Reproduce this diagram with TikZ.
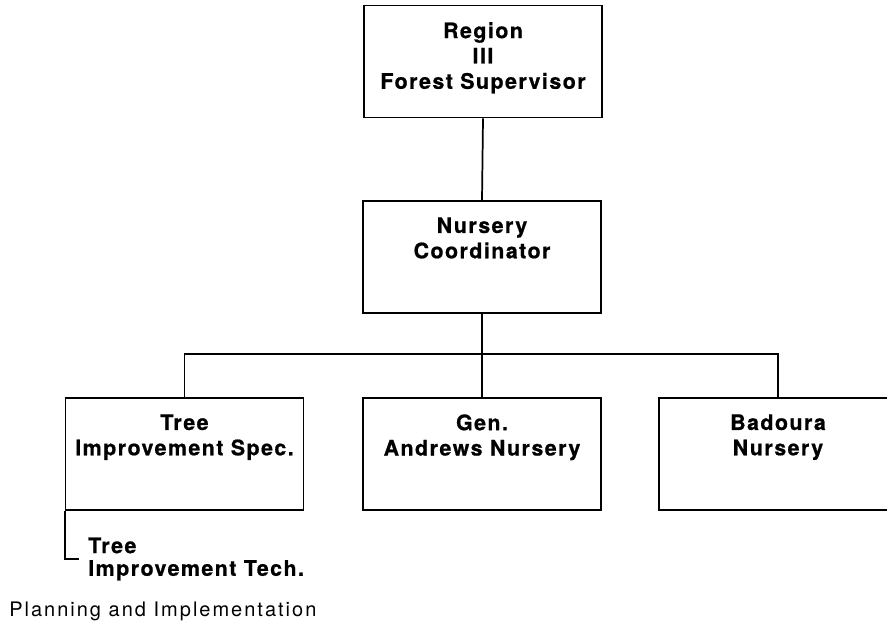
\documentclass[tikz,border=0pt]{standalone}
\usepackage{fontspec}
\newfontfamily\orgfont[LetterSpace=7,BoldFeatures={FakeBold=0.8}]{TeX Gyre Heros}
\newfontfamily\planfont[LetterSpace=10]{TeX Gyre Heros}
\usetikzlibrary{positioning}
\tikzset{
  unit/.style={draw, line width=1.3pt, minimum width=178.5pt, minimum height=84pt, inner sep=0pt},
  caption/.style={align=center, inner sep=0pt, anchor=north, font=\orgfont\bfseries\fontsize{16}{19}\selectfont},
  link/.style={line width=1.3pt}
}
\begin{document}
\begin{tikzpicture}[x=0.75pt,y=0.75pt]
	\tikzstyle{every node}+=[inner sep=0pt]
	\useasboundingbox (0,0) rectangle (887,-627);
	\node [unit] (super) at (483,-61.5) {};
	\node [caption] (superlabel) at ([yshift=-13pt]super.north) {Region\\III\\Forest Supervisor};
	\node [unit] (coord) at (482,-257) {};
	\node [caption] (coordlabel) at ([yshift=-12.75pt]coord.north) {Nursery\\Coordinator};
	\node [unit] (tis) at (184.5,-454) {};
	\node [caption] (tislabel) at ([yshift=-12.75pt]tis.north) {Tree\\Improvement Spec.};
	\node [unit] (gan) at (482,-454) {};
	\node [caption] (ganlabel) at ([yshift=-12.75pt]gan.north) {Gen.\\Andrews Nursery};
	\node [unit] (bad) at (778,-454) {};
	\node [caption] (badlabel) at ([yshift=-12.75pt]bad.north) {Badoura\\Nursery};
	\node [caption, align=left, anchor=west, font=\orgfont\bfseries\fontsize{16}{17}\selectfont] (tech) at (88,-559) {Tree\\Improvement Tech.};
	\node [anchor=base west, font=\planfont\fontsize{15}{16}\selectfont] (plan) at (9,-616) {Planning and Implementation};
	\coordinate (bar) at (482,-354);
	\draw [link] (super.south) -- (coord.north);
	\draw [link] (coord.south) -- (gan.north);
	\draw [link] (tis.north) |- (bar) -| (bad.north);
	\draw [link] (tis.south west) |- ([xshift=-6.75pt]tech.west);
\end{tikzpicture}
\end{document}
